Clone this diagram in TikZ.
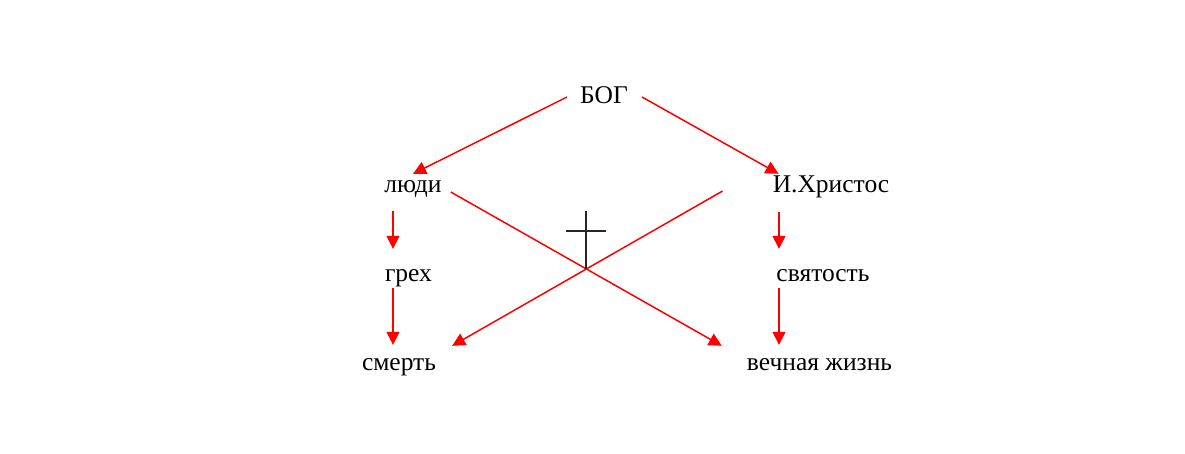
\documentclass[tikz,border=0pt]{standalone}
\usepackage{fontspec}
\setmainfont{Liberation Serif}
\usetikzlibrary{arrows.meta}
\begin{document}
\begin{tikzpicture}[x=1pt, y=-1pt,
   word/.style={inner sep=0pt, text height=18pt, text depth=6pt, anchor=base,
     font=\fontsize{25.5}{30}\selectfont},
   arr/.style={red, line width=1.5pt, -{Triangle[length=13pt,width=13pt]}}]
   \useasboundingbox (0,0) rectangle (1185,453);
   \node[word] (bog) at (604,103) {БОГ};
   \node[word] (lyudi) at (413,192) {люди};
   \node[word] (hristos) at (831,192) {И.Христос};
   \node[word] (greh) at (408.5,281) {грех};
   \node[word] (svyat) at (823,281) {святость};
   \node[word] (smert) at (399,370) {смерть};
   \node[word] (zhizn) at (819.5,370) {вечная жизнь};
   \coordinate (lcol) at (393,0);
   \coordinate (rcol) at (779,0);
   \draw[arr] ([xshift=-13pt]bog.west) -- (lyudi.north);
   \draw[arr] ([xshift=14pt]bog.east) -- ([xshift=6pt]hristos.north west);
   \draw[arr, shorten <=13pt, shorten >=14pt] (lyudi.south -| lcol) -- (greh.north -| lcol);
   \draw[arr, shorten <=1pt, shorten >=7pt] (greh.south -| lcol) -- (smert.north -| lcol);
   \draw[arr, shorten <=14pt, shorten >=14pt] (hristos.south -| rcol) -- (svyat.north -| rcol);
   \draw[arr, shorten <=1pt, shorten >=7pt] (svyat.south -| rcol) -- (zhizn.north -| rcol);
   \draw[arr] ([xshift=9pt]lyudi.base east) -- ([xshift=-25pt,yshift=6pt]zhizn.north west);
   \draw[arr] ([xshift=-50pt,yshift=1pt]hristos.base west) -- ([xshift=16pt,yshift=6pt]smert.north east);
   % cross
   \draw[line width=1.5pt, black!85] (586,211) -- (586,269);
   \draw[line width=1.5pt, black!85] (566,231) -- (606,231);
\end{tikzpicture}
\end{document}
